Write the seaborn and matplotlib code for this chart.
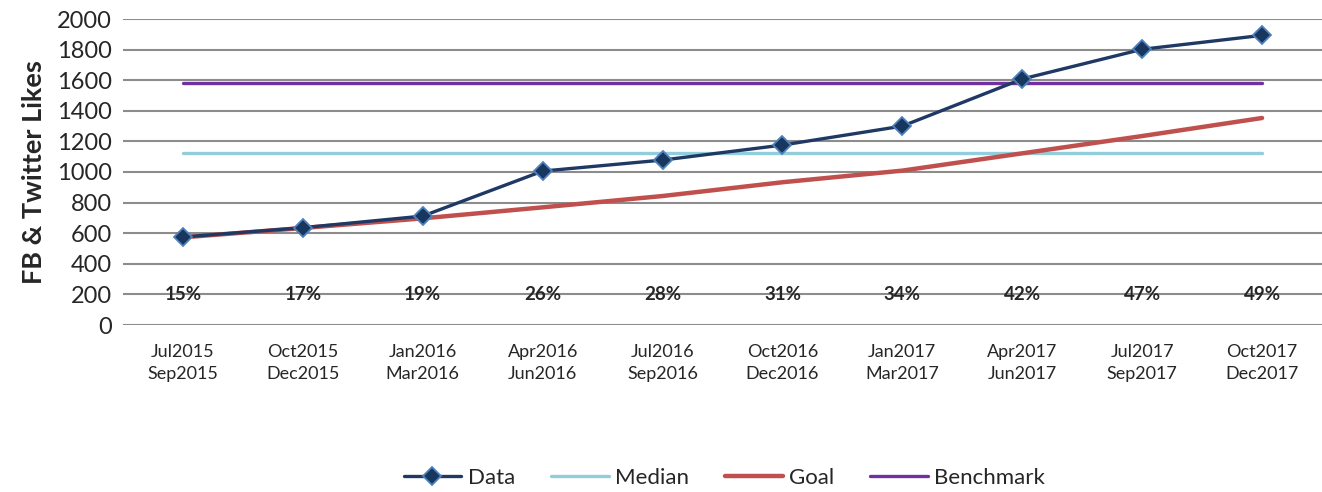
import numpy as np
import pandas as pd
import matplotlib
matplotlib.use("Agg")
import matplotlib.pyplot as plt
import seaborn as sns

# Chart values
quarters = ["Jul2015\nSep2015", "Oct2015\nDec2015", "Jan2016\nMar2016", "Apr2016\nJun2016",
            "Jul2016\nSep2016", "Oct2016\nDec2016", "Jan2017\nMar2017", "Apr2017\nJun2017",
            "Jul2017\nSep2017", "Oct2017\nDec2017"]
data_values = [575, 636, 712, 1006, 1078, 1176, 1300, 1608, 1802, 1893]
goal_values = [573, 634, 697, 769, 843, 933, 1009, 1122, 1235, 1353]
median_value = 1126
benchmark_value = 1582
pct_labels = ["15%", "17%", "19%", "26%", "28%", "31%", "34%", "42%", "47%", "49%"]
pct_level = 200

sns.set_style("white")
plt.rcParams["font.family"] = ["Lato", "DejaVu Sans"]

pos = np.arange(len(quarters))
df = pd.DataFrame({
    "pos": pos,
    "Data": data_values,
    "Median": [median_value] * len(quarters),
    "Goal": goal_values,
    "Benchmark": [benchmark_value] * len(quarters),
})

fig = plt.figure(figsize=(13.22, 4.92), dpi=100)
ax = fig.add_axes([123 / 1322, 1 - 325 / 492, 1 - 123 / 1322, (325 - 19) / 492])

# gridlines
for v in range(0, 2001, 200):
    ax.axhline(v, color="#8c8c8c", lw=1.5, zorder=0)

sns.lineplot(data=df, x="pos", y="Median", ax=ax, color="#92CDDC", lw=2.4, label="Median", zorder=2)
sns.lineplot(data=df, x="pos", y="Goal", ax=ax, color="#C0504D", lw=3.2, label="Goal", zorder=3)
sns.lineplot(data=df, x="pos", y="Benchmark", ax=ax, color="#7030A0", lw=2.4, label="Benchmark", zorder=2)
sns.lineplot(data=df, x="pos", y="Data", ax=ax, color="#1F3864", lw=2.4, label="Data",
             marker="D", markersize=9, markerfacecolor="#17375E", markeredgecolor="#4F81BD",
             markeredgewidth=1.3, zorder=4)

for i, t in enumerate(pct_labels):
    ax.text(pos[i], pct_level, t, ha="center", va="center", fontsize=13.5, fontweight="bold", zorder=5)

ax.set_xlim(-0.5, len(quarters) - 0.5)
ax.set_ylim(0, 2000)
ax.set_yticks(range(0, 2001, 200))
ax.set_xticks(pos)
ax.set_xticklabels(quarters, fontsize=13, linespacing=1.4)
ax.tick_params(axis="y", labelsize=17, length=0, pad=8)
ax.tick_params(axis="x", length=0, pad=14)
ax.set_xlabel("")
ax.set_ylabel("FB & Twitter Likes", fontsize=19.5, fontweight="bold", labelpad=8)
for s in ax.spines.values():
    s.set_visible(False)

handles, labels = ax.get_legend_handles_labels()
order = [labels.index(n) for n in ["Data", "Median", "Goal", "Benchmark"]]
ax.legend([handles[i] for i in order], [labels[i] for i in order],
          loc="center", bbox_to_anchor=(0.548, 0.028), bbox_transform=fig.transFigure,
          ncol=4, frameon=False, fontsize=16, handlelength=2.6, columnspacing=1.6, handletextpad=0.3)

fig.savefig("out.png", dpi=100)
